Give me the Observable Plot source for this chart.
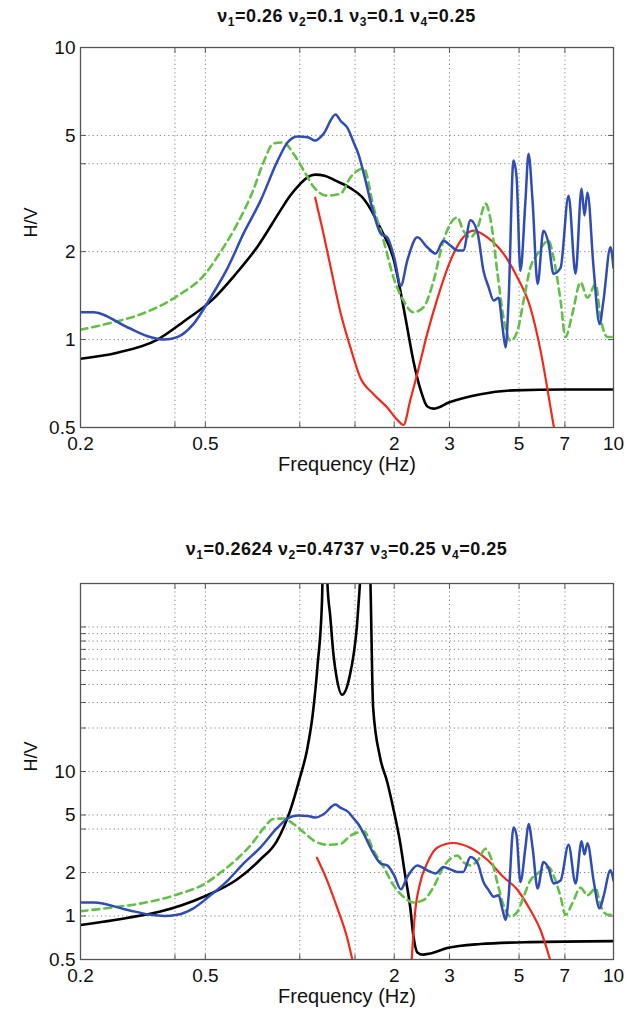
<!DOCTYPE html>
<html><head><meta charset="utf-8">
<script src="https://cdn.jsdelivr.net/npm/d3@7"></script>
<script src="https://cdn.jsdelivr.net/npm/@observablehq/plot@0.6"></script>
<style>
body{margin:0;background:#fff;font-family:"Liberation Sans",Arial,sans-serif;}
.title{width:636px;box-sizing:border-box;padding-left:80px;padding-right:23px;text-align:center;font-weight:bold;font-size:18px;letter-spacing:0.5px;color:#111;white-space:nowrap;overflow:visible;}
.title sub{font-size:12px;vertical-align:-4px;line-height:0;}
#t1{height:30px;line-height:32px;}
#t2{height:83px;padding-top:56px;line-height:32px;}
svg{display:block;}
</style></head>
<body>
<div class="title" id="t1">ν<sub>1</sub>=0.26 ν<sub>2</sub>=0.1 ν<sub>3</sub>=0.1 ν<sub>4</sub>=0.25</div>
<div id="p1"></div>
<div class="title" id="t2">ν<sub>1</sub>=0.2624 ν<sub>2</sub>=0.4737 ν<sub>3</sub>=0.25 ν<sub>4</sub>=0.25</div>
<div id="p2"></div>
<script>
// x axis ticks / grid
const xGridTicks = [0.4, 0.5, 1, 1.5, 2, 3, 5, 7];
const xTickLabels = [0.2, 0.5, 2, 3, 5, 7, 10];
const yTickLabels = [0.5, 1, 2, 5, 10];
const yGridTop = [1, 2, 4, 5];
const yGridBottom = [1, 2, 4, 5, 10, 20, 30, 40, 50, 60, 70, 80, 90, 100];
const xAxisTitle = "Frequency (Hz)";
const yAxisTitle = "H/V";

// Observed H/V (blue) — same in both panels
const obsFreq = [0.2,0.22,0.283,0.334,0.368,0.407,0.458,0.519,0.589,0.662,0.75,0.85,0.914,0.984,1.06,1.12,1.19,1.30,1.35,1.42,1.49,1.54,1.60,1.72,1.81,1.90,2.0,2.10,2.20,2.37,2.55,2.71,2.87,3.02,3.18,3.32,3.50,3.69,3.85,4.0,4.15,4.30,4.43,4.53,4.63,4.80,4.91,5.05,5.24,5.36,5.52,5.73,5.98,6.21,6.44,6.78,7.19,7.57,7.91,8.08,8.26,8.64,9.03,9.29,9.78,10];
const obsHV   = [1.24,1.24,1.10,1.02,1.00,1.02,1.13,1.39,1.76,2.31,2.99,4.1,4.73,4.96,4.93,4.8,5.06,5.9,5.6,5.3,4.69,4.3,3.7,2.7,2.31,2.24,1.91,1.53,1.86,2.24,2.07,1.97,2.18,2.1,2.02,2.02,2.56,2.31,1.72,1.51,1.36,1.39,1.1,0.94,1.36,4.1,3.6,1.72,2.99,4.33,2.99,1.55,2.36,2.13,1.68,1.76,3.11,1.68,3.29,2.66,3.19,1.76,1.13,1.36,2.07,1.76];

// Green dashed curve — same in both panels
const dashFreq = [0.2,0.249,0.317,0.407,0.5,0.558,0.632,0.71,0.766,0.824,0.887,0.955,1.03,1.11,1.225,1.35,1.45,1.60,1.72,1.85,1.99,2.14,2.30,2.48,2.67,2.87,3.18,3.32,3.50,3.69,3.91,4.06,4.27,4.46,4.70,4.94,5.17,5.43,5.73,6.21,6.44,6.78,7.03,7.40,7.85,8.26,8.77,9.09,9.57,10];
const dashHV   = [1.08,1.14,1.23,1.41,1.68,1.99,2.49,3.24,4.04,4.69,4.73,4.33,3.79,3.32,3.11,3.16,3.59,3.85,2.83,2.18,1.63,1.36,1.24,1.29,1.59,2.18,2.62,2.36,2.24,2.42,2.92,2.56,1.68,1.19,0.99,1.07,1.36,1.76,1.97,2.18,1.91,1.36,1.02,1.23,1.57,1.39,1.55,1.19,1.02,1.02];

// Top panel: black and red
const black1Freq = [0.2,0.26,0.352,0.43,0.527,0.62,0.733,0.87,0.93,1.0,1.06,1.12,1.2,1.3,1.45,1.6,1.81,2.0,2.1,2.2,2.3,2.43,2.55,2.67,3.0,3.77,4.8,7,10];
const black1HV   = [0.86,0.9,1.0,1.16,1.37,1.66,2.08,2.78,3.1,3.4,3.6,3.67,3.64,3.5,3.3,3.03,2.4,1.85,1.44,1.1,0.85,0.67,0.59,0.58,0.61,0.65,0.67,0.675,0.675];
const red1Freq = [1.12,1.18,1.25,1.35,1.45,1.56,1.72,1.9,2.05,2.14,2.25,2.37,2.55,2.75,3.02,3.32,3.58,3.96,4.46,4.94,5.43,5.85,6.3,6.5];
const red1HV   = [3.06,2.4,1.8,1.23,0.94,0.74,0.65,0.585,0.53,0.51,0.62,0.765,1.05,1.39,1.86,2.24,2.36,2.24,1.97,1.63,1.29,0.92,0.585,0.48];

// Bottom panel: black and red (two branches)
const black2Freq = [0.2,0.281,0.357,0.494,0.629,0.747,0.845,0.93,1.0,1.054,1.10,1.14,1.177,1.20,1.225,1.25,1.28,1.31,1.364,1.44,1.52,1.56,1.64,1.68,1.713,1.803,1.899,1.985,2.087,2.166,2.25,2.30,2.37,2.47,2.60,2.95,3.76,5.43,10];
const black2HV   = [0.866,0.97,1.07,1.36,1.78,2.45,3.3,5.3,9.0,14,25,55,150,1000,200,120,65,45,34,45,100,220,1000,200,27.8,12.5,8.5,5.6,3.26,1.93,1.14,0.74,0.56,0.54,0.55,0.6,0.64,0.66,0.67];
const red2aFreq = [1.134,1.22,1.314,1.415,1.48];
const red2aHV   = [2.53,1.78,1.15,0.71,0.47];
const red2bFreq = [2.27,2.33,2.42,2.55,2.74,3.08,3.49,3.96,4.45,4.94,5.43,5.85,6.33];
const red2bHV   = [0.47,1.05,1.7,2.33,2.97,3.2,2.97,2.45,1.87,1.52,1.1,0.8,0.47];

const rows = (fs, vs) => fs.map((f, i) => ({f, v: vs[i]}));
const FONT = '"Liberation Sans", Arial, sans-serif';
const BLUE = "#2f4db5", GREEN = "#62c047", RED = "#f2281b";
const tickShape = {draw(context, l) { context.moveTo(0, 0); context.lineTo(0, -l); }};

function panel({height, marginTop, yDomain, yGrid, black, reds}) {
  const grid = {stroke: "#666", strokeOpacity: 1, strokeWidth: 0.8, strokeDasharray: "1.2,3"};
  const tk = {length: 5, anchor: "start", shape: tickShape, stroke: "#555", strokeWidth: 1};
  return Plot.plot({
    width: 636, height, marginLeft: 80, marginRight: 23, marginTop, marginBottom: 50,
    style: {fontFamily: FONT, fontSize: "19px", color: "#111", background: "#fff", overflow: "visible"},
    x: {type: "log", domain: [0.2, 10], axis: null},
    y: {type: "log", domain: yDomain, axis: null},
    marks: [
      Plot.gridX(xGridTicks, grid),
      Plot.gridY(yGrid, grid),
      // inward ticks on all four sides
      Plot.vector(xGridTicks, {x: d => d, frameAnchor: "bottom", rotate: 0, ...tk}),
      Plot.vector(xGridTicks, {x: d => d, frameAnchor: "top", rotate: 180, ...tk}),
      Plot.vector(yGrid, {y: d => d, frameAnchor: "left", rotate: 90, ...tk}),
      Plot.vector(yGrid, {y: d => d, frameAnchor: "right", rotate: 270, ...tk}),
      // tick labels
      Plot.text(xTickLabels, {x: d => d, text: d => String(d), frameAnchor: "bottom", lineAnchor: "top", dy: 9, fontSize: 19, fill: "#111"}),
      Plot.text(yTickLabels, {y: d => d, text: d => String(d), frameAnchor: "left", textAnchor: "end", dx: -5, fontSize: 19, fill: "#111"}),
      Plot.text([xAxisTitle], {text: d => d, frameAnchor: "bottom", lineAnchor: "top", dy: 29, fontSize: 20, fill: "#111", letterSpacing: 0.4}),
      Plot.text([yAxisTitle], {text: d => d, frameAnchor: "left", dx: -49, rotate: -90, fontSize: 18, fill: "#111"}),
      // curves
      Plot.line(rows(black.f, black.v), {x: "f", y: "v", stroke: "#000", strokeWidth: 2.6, curve: "monotone-x", clip: true}),
      ...reds.map(r => Plot.line(rows(r.f, r.v), {x: "f", y: "v", stroke: RED, strokeWidth: 2.2, curve: "monotone-x", clip: true})),
      Plot.line(rows(dashFreq, dashHV), {x: "f", y: "v", stroke: GREEN, strokeWidth: 2.6, strokeDasharray: "7,5", curve: "monotone-x", clip: true}),
      Plot.line(rows(obsFreq, obsHV), {x: "f", y: "v", stroke: BLUE, strokeWidth: 2.5, curve: "monotone-x", clip: true}),
      Plot.frame({stroke: "#555", strokeWidth: 1.3})
    ]
  });
}

document.getElementById("p1").append(panel({
  height: 447, marginTop: 17, yDomain: [0.5, 10], yGrid: yGridTop,
  black: {f: black1Freq, v: black1HV}, reds: [{f: red1Freq, v: red1HV}]
}));
document.getElementById("p2").append(panel({
  height: 449, marginTop: 23, yDomain: [0.5, 200], yGrid: yGridBottom,
  black: {f: black2Freq, v: black2HV}, reds: [{f: red2aFreq, v: red2aHV}, {f: red2bFreq, v: red2bHV}]
}));
</script>
</body></html>
